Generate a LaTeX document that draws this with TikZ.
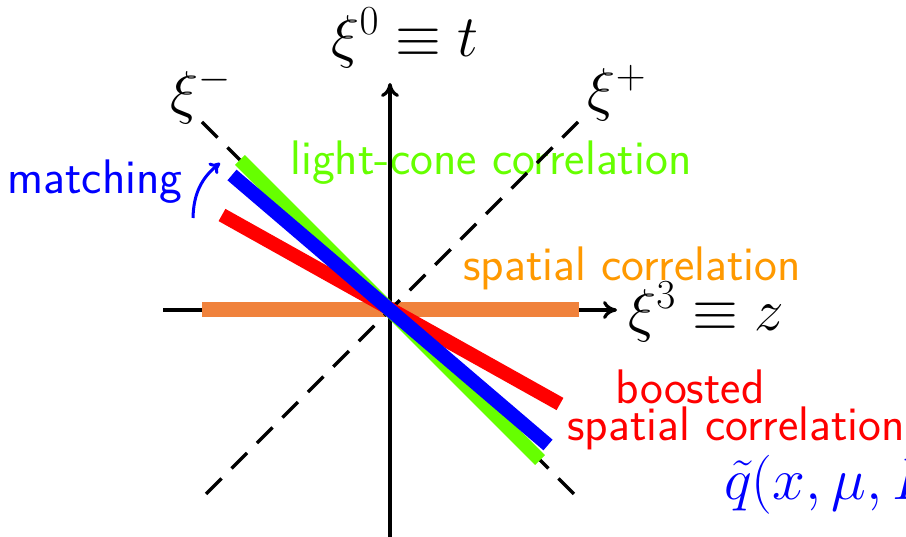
\documentclass[tikz,border=0pt]{standalone}
\usepackage{fix-cm}
\usepackage{fontspec}
\usetikzlibrary{arrows.meta}
\definecolor{lcgreen}{RGB}{102,255,0}
\definecolor{bandorange}{RGB}{240,130,60}
\definecolor{txtorange}{RGB}{255,153,0}
\begin{document}
\begin{tikzpicture}[x=1pt,y=-1pt,
  lbl/.style={font=\fontsize{48.5}{55}\selectfont\sffamily, inner sep=0pt},
  mth/.style={font=\fontsize{59}{64}\selectfont, inner sep=0pt},
  axisline/.style={line width=3.2pt, -{Computer Modern Rightarrow[length=14pt,width=18pt]}},
  cone/.style={line width=3.2pt, dash pattern=on 22pt off 14pt},
  band/.style={line width=14pt}]
\useasboundingbox (0,0) rectangle (906,537);
\clip (0,0) rectangle (906,537);
% labels
\node[lbl, text=lcgreen] (lc) at (491,163) {light-cone correlation};
\node[lbl, text=blue] (match) at (95,182) {matching};
\node[lbl, text=txtorange] (sp) at (632,268) {spatial correlation};
\node[lbl, text=red] (boost) at (690,387) {boosted};
\node[lbl, text=red] (bsp) at (736,428) {spatial correlation};
\node[mth] (tlab) at (405,38) {$\xi^0\equiv t$};
\node[mth] (zlab) at (706,312) {$\xi^3\equiv z$};
\node[mth] (mlab) at (201,95) {$\xi^-$};
\node[mth] (plab) at (617,93) {$\xi^+$};
\node[mth, text=blue, anchor=west] (qlab) at (724,485) {$\tilde q(x,\mu,P^z)$};
% coordinates
\coordinate (xl) at (163,310);
\coordinate (xr) at (617,310);
\coordinate (yb) at (390,545);
\coordinate (yt) at (390,83);
\coordinate (m1) at (202,122);
\coordinate (m2) at (578,498);
\coordinate (p1) at (578,122);
\coordinate (p2) at (200,500);
\coordinate (o1) at (202,310);
\coordinate (o2) at (579,310);
\coordinate (g1) at (240,160);
\coordinate (g2) at (540,460);
\coordinate (r1) at (222,215);
\coordinate (r2) at (560,404);
\coordinate (b1) at (232,175);
\coordinate (b2) at (548,445);
\coordinate (a1) at (193,218);
\coordinate (a2) at (220,163);
% axes
\draw[axisline] (xl) -- (xr);
\draw[axisline] (yb) -- (yt);
% bands and light cone
\draw[band, bandorange, line width=15pt] (o1) -- (o2);
\draw[cone] (m1) -- (m2);
\draw[cone] (p1) -- (p2);
\draw[band, lcgreen] (g1) -- (g2);
\draw[band, red] (r1) -- (r2);
\draw[band, blue] (b1) -- (b2);
% matching arrow
\draw[blue, line width=3pt, -{Computer Modern Rightarrow[length=10pt,width=14pt]}] (a1) to[bend left=25] (a2);
\end{tikzpicture}
\end{document}
